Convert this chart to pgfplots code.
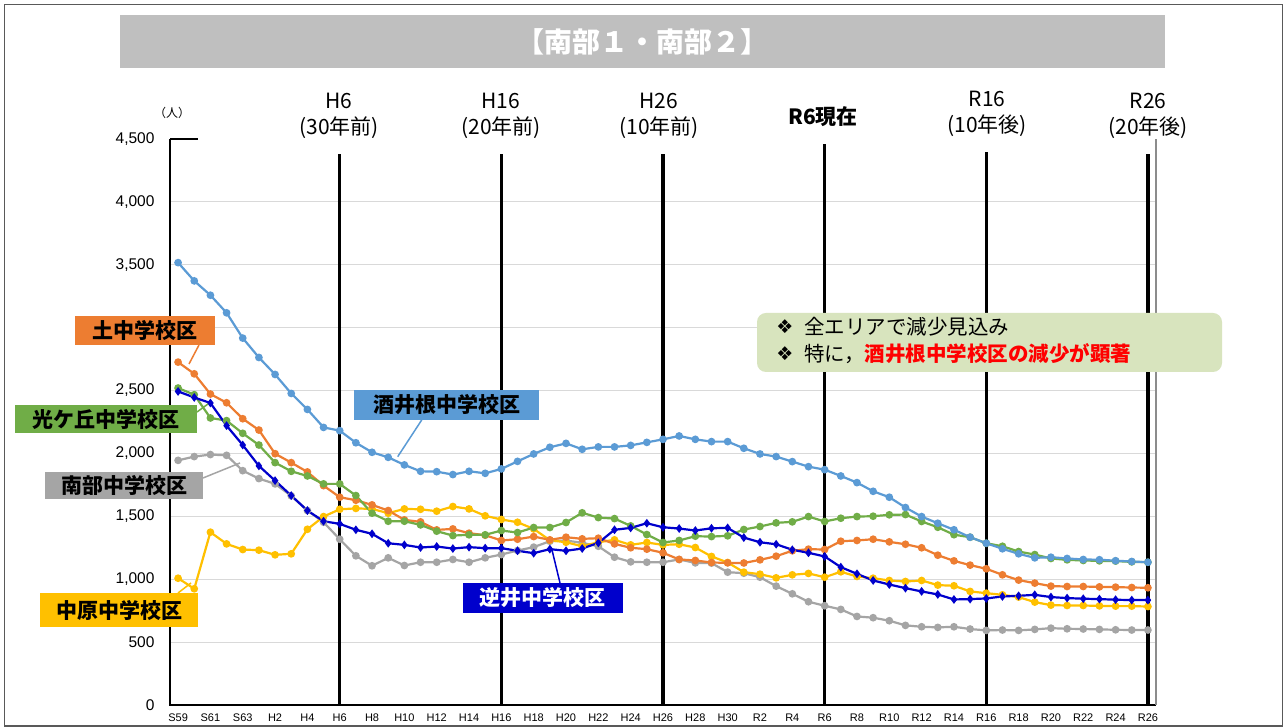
\documentclass[border=0pt]{standalone}
\usepackage{fontspec}
\setmainfont{Noto Sans CJK JP}
\newfontfamily\lib{Liberation Sans}
\newfontfamily\dejavu{DejaVu Sans}
\usepackage{pgfplots}
\usepackage{pgfplotstable}
\pgfplotsset{compat=1.18}
\definecolor{cLB}{HTML}{5B9BD5}
\definecolor{cOR}{HTML}{ED7D31}
\definecolor{cGR}{HTML}{70AD47}
\definecolor{cGY}{HTML}{A5A5A5}
\definecolor{cYE}{HTML}{FFC000}
\definecolor{cDB}{HTML}{0000CC}
\definecolor{gridc}{HTML}{D9D9D9}
\definecolor{titlec}{HTML}{BFBFBF}
\definecolor{framec}{HTML}{595959}
\definecolor{notec}{HTML}{D8E4BE}
\definecolor{rightc}{HTML}{8C8C8C}
\definecolor{redc}{HTML}{FF0000}

\pgfplotstableread{
x sakai tsuchi hikari sakasai nanbu nakahara
0 3517 2726 2520 2493 1945 1008
1 3372 2633 2467 2445 1975 924
2 3258 2472 2282 2401 1991 1374
3 3118 2403 2261 2221 1985 1281
4 2917 2276 2160 2067 1863 1236
5 2763 2186 2067 1901 1800 1231
6 2628 1998 1927 1784 1758 1194
7 2477 1927 1858 1665 1663 1202
8 2350 1853 1821 1546 1546 1397
9 2207 1744 1758 1461 1453 1498
10 2181 1652 1758 1440 1318 1556
11 2085 1628 1665 1393 1186 1563
12 2009 1591 1525 1361 1107 1559
13 1969 1546 1461 1286 1170 1525
14 1909 1472 1461 1273 1109 1559
15 1858 1456 1432 1252 1135 1556
16 1855 1392 1382 1260 1135 1541
17 1832 1400 1347 1244 1157 1578
18 1858 1366 1353 1255 1135 1559
19 1842 1350 1353 1247 1170 1504
20 1877 1308 1387 1247 1196 1475
21 1937 1318 1371 1226 1228 1453
22 1996 1339 1411 1207 1255 1400
23 2049 1313 1411 1239 1302 1310
24 2080 1334 1451 1226 1308 1294
25 2033 1321 1528 1244 1289 1262
26 2052 1326 1490 1289 1262 1294
27 2052 1281 1482 1393 1175 1313
28 2064 1250 1424 1408 1138 1273
29 2088 1239 1355 1445 1135 1292
30 2112 1210 1292 1413 1135 1273
31 2139 1157 1308 1403 1157 1278
32 2112 1149 1342 1387 1130 1252
33 2094 1133 1339 1405 1128 1181
34 2094 1130 1345 1408 1056 1133
35 2041 1129 1395 1331 1048 1056
36 1996 1154 1419 1294 1016 1040
37 1975 1183 1448 1278 945 1011
38 1935 1226 1456 1234 884 1035
39 1895 1239 1498 1210 821 1046
40 1871 1236 1459 1181 789 1016
41 1821 1302 1485 1096 760 1059
42 1768 1308 1498 1043 704 1022
43 1699 1318 1501 990 694 1008
44 1652 1297 1512 958 670 990
45 1570 1278 1514 929 633 982
46 1498 1250 1459 903 622 990
47 1445 1191 1413 879 617 953
48 1393 1146 1354 839 622 948
49 1334 1112 1334 842 604 903
50 1286 1083 1286 847 593 889
51 1242 1035 1262 863 596 876
52 1202 993 1220 868 593 858
53 1170 969 1196 876 601 818
54 1175 945 1165 858 611 794
55 1165 942 1154 850 606 791
56 1157 942 1149 845 604 791
57 1155 939 1146 842 601 788
58 1147 937 1144 837 598 786
59 1141 934 1138 834 596 786
60 1135 932 1135 834 596 783
}\data

\begin{document}
\begin{tikzpicture}[x=1pt,y=1pt]
\path[use as bounding box] (0,0) rectangle (1287,727);
\fill[white] (0,0) rectangle (1287,727);
\draw[framec, line width=1.4pt] (4.5,1) rectangle (1282.5,722.5);
\fill[titlec] (120,659) rectangle (1165,712);
\node[white, font=\fontsize{28}{28}\selectfont\bfseries] at (642.5,685.5) {【南部１・南部２】};

\node[font=\fontsize{12}{12}\selectfont] at (172,614) {（人）};
\draw[black, line width=1.3pt] (170,588) -- (198,588);

% column headers
\foreach \xx/\a/\b in {339/H6/(30年前), 501/H16/(20年前), 659/H26/(10年前), 1148/R26/(20年後)}{
  \node[font=\fontsize{21}{21}\selectfont] at (\xx,626) {\a};
  \node[font=\fontsize{21}{21}\selectfont] at (\xx,599) {\b};
}
\node[font=\fontsize{21}{21}\selectfont] at (987,628) {R16};
\node[font=\fontsize{21}{21}\selectfont] at (987,601) {(10年後)};
\node[font=\fontsize{21}{21}\selectfont\bfseries] at (823,610) {R6現在};

\begin{axis}[
  at={(170pt,22pt)}, anchor=south west,
  scale only axis, width=986pt, height=566pt,
  xmin=-0.5, xmax=60.5, ymin=0, ymax=4500,
  axis line style={draw=none},
  tick style={draw=none},
  xtick={0,2,...,60},
  xticklabels={S59,S61,S63,H2,H4,H6,H8,H10,H12,H14,H16,H18,H20,H22,H24,H26,H28,H30,R2,R4,R6,R8,R10,R12,R14,R16,R18,R20,R22,R24,R26},
  ytick={500,1000,...,4000},
  extra y ticks={0,4500},
  extra y tick style={grid=none},
  ymajorgrids,
  grid style={draw=gridc, line width=1.2pt},
  /pgf/number format/1000 sep={,},
  /pgf/number format/assume math mode=true,
  yticklabel={\ifdim\tick pt=3000pt\relax\else\pgfmathprintnumber{\tick}\fi},
  yticklabel style={font=\lib\fontsize{15.5}{15.5}\selectfont, xshift=-12pt},
  xticklabel style={font=\lib\fontsize{11}{11}\selectfont, yshift=-5pt},
  clip=false,
]
\draw[black, line width=1.5pt] (axis cs:-0.5,4500) -- (axis cs:-0.5,0) -- (axis cs:60.5,0);
\draw[rightc, line width=1.5pt] (axis cs:60.5,0) -- (axis cs:60.5,4500);
\draw[black, line width=3.2pt] (axis cs:10,0) -- (axis cs:10,4380);
\draw[black, line width=3.2pt] (axis cs:20,0) -- (axis cs:20,4380);
\draw[black, line width=3.2pt] (axis cs:30,0) -- (axis cs:30,4380);
\draw[black, line width=3.2pt] (axis cs:40,0) -- (axis cs:40,4460);
\draw[black, line width=3.2pt] (axis cs:50,0) -- (axis cs:50,4400);
\draw[black, line width=3.2pt] (axis cs:60,0) -- (axis cs:60,4380);

\addplot[cGY, line width=2.2pt, mark=*, mark size=2.7pt] table[x=x,y=nanbu]{\data};
\addplot[cYE, line width=2.2pt, mark=*, mark size=2.7pt] table[x=x,y=nakahara]{\data};
\addplot[cOR, line width=2.2pt, mark=*, mark size=2.7pt] table[x=x,y=tsuchi]{\data};
\addplot[cGR, line width=2.2pt, mark=*, mark size=2.7pt] table[x=x,y=hikari]{\data};
\addplot[cDB, line width=2.2pt, mark=diamond*, mark size=2.6pt] table[x=x,y=sakasai]{\data};
\addplot[cLB, line width=2.2pt, mark=*, mark size=2.7pt] table[x=x,y=sakai]{\data};
\end{axis}

% leader lines
\draw[cOR, line width=1.5pt] (199,382) -- (189,363);
\draw[cGR, line width=1.5pt] (197,315) -- (208,323);
\draw[cGY, line width=1.5pt] (203,249) -- (240,264);
\draw[cYE, line width=1.5pt] (178,134) -- (191,144);
\draw[cLB, line width=1.5pt] (421.7,307) -- (397.7,270.3);
\draw[cDB, line width=1.5pt] (552,177) -- (560,144);

% series labels
\tikzset{lab/.style={inner sep=0pt, font=\fontsize{21}{21}\selectfont\bfseries}}
\node[lab, fill=cOR, minimum width=140pt, minimum height=29pt] at (145,396.5) {土中学校区};
\node[lab, fill=cGR, minimum width=182pt, minimum height=28pt] at (106,308) {光ケ丘中学校区};
\node[lab, fill=cGY, minimum width=158pt, minimum height=27pt] at (124,241.5) {南部中学校区};
\node[lab, fill=cYE, minimum width=158pt, minimum height=34pt] at (119,117) {中原中学校区};
\node[lab, fill=cLB, minimum width=185pt, minimum height=30pt] at (446.5,322) {酒井根中学校区};
\node[lab, fill=cDB, text=white, minimum width=160pt, minimum height=29.5pt] at (542.7,129) {逆井中学校区};

% note box
\fill[notec, rounded corners=9pt] (757,355) rectangle (1222,414);
\node[font=\dejavu\fontsize{19}{19}\selectfont] at (785,400) {❖};
\node[font=\dejavu\fontsize{19}{19}\selectfont] at (785,373) {❖};
\node[anchor=west, inner sep=0pt, font=\fontsize{20.5}{20.5}\selectfont] at (804,400) {全エリアで減少見込み};
\node[anchor=west, inner sep=0pt, font=\fontsize{20.5}{20.5}\selectfont] at (804,373) {特に，{\bfseries\color{redc}酒井根中学校区の減少が顕著}};
\end{tikzpicture}
\end{document}
